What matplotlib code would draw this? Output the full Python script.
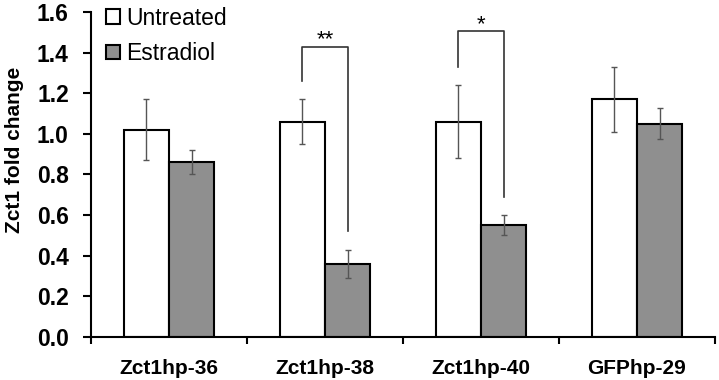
import numpy as np
import matplotlib
matplotlib.use("Agg")
import matplotlib.pyplot as plt

# Chart data
categories = ["Zct1hp-36", "Zct1hp-38", "Zct1hp-40", "GFPhp-29"]
untreated = [1.02, 1.06, 1.06, 1.17]
untreated_err = [0.15, 0.11, 0.18, 0.16]
estradiol = [0.86, 0.36, 0.55, 1.05]
estradiol_err = [0.06, 0.07, 0.05, 0.075]
y_ticks = [0.0, 0.2, 0.4, 0.6, 0.8, 1.0, 1.2, 1.4, 1.6]

# significance brackets: (category index, left bottom, top, right bottom, label)
brackets = [(1, 1.26, 1.43, 0.52, "**"), (2, 1.33, 1.505, 0.69, "*")]

plt.rcParams["font.family"] = ["Liberation Sans", "DejaVu Sans"]

fig = plt.figure(figsize=(7.19, 3.80), dpi=100)
ax = fig.add_axes([0.1266, 0.1132, 0.8678, 0.8552])

x = np.arange(len(categories))
w = 0.29
ax.bar(x - w / 2, untreated, w, color="white", edgecolor="black", linewidth=1.5,
       label="Untreated", zorder=2)
ax.bar(x + w / 2, estradiol, w, color="#8f8f8f", edgecolor="black", linewidth=1.5,
       label="Estradiol", zorder=2)
ax.errorbar(x - w / 2, untreated, yerr=untreated_err, fmt="none", ecolor="#555555",
            elinewidth=1, capsize=2.5, capthick=1, zorder=3)
ax.errorbar(x + w / 2, estradiol, yerr=estradiol_err, fmt="none", ecolor="#555555",
            elinewidth=1, capsize=2.5, capthick=1, zorder=3)

for i, yl, yt, yr, lab in brackets:
    xl, xr = i - w / 2, i + w / 2
    ax.plot([xl, xl, xr, xr], [yl, yt, yt, yr], color="#333333", linewidth=1.2,
            zorder=4)
    ax.text(i, yt - 0.02, lab, ha="center", va="bottom", fontsize=16)

ax.set_xlim(-0.5, len(categories) - 0.5)
ax.set_ylim(0, 1.6)
ax.set_yticks(y_ticks)
ax.set_yticklabels([f"{v:.1f}" for v in y_ticks], fontsize=16.5, fontweight="bold")
ax.set_xticks(x)
ax.set_xticklabels(categories, fontsize=15, fontweight="bold")
ax.tick_params(axis="x", length=0, pad=16)
ax.set_xticks(np.arange(len(categories) + 1) - 0.5, minor=True)
ax.tick_params(axis="x", which="minor", direction="out", length=5, width=1.5)
ax.tick_params(axis="y", direction="out", length=6, width=1.5, pad=10)
ax.set_ylabel("Zct1 fold change", fontsize=15, fontweight="bold")
ax.yaxis.set_label_coords(-0.107, 0.575)

for s in ["top", "right"]:
    ax.spines[s].set_visible(False)
for s in ["left", "bottom"]:
    ax.spines[s].set_linewidth(1.5)

ax.legend(loc="upper left", bbox_to_anchor=(0.01, 1.045), frameon=False,
          fontsize=16.5, handlelength=0.6, handleheight=0.6, handletextpad=0.25,
          labelspacing=0.55, borderaxespad=0)

fig.savefig("out.png", dpi=100)
